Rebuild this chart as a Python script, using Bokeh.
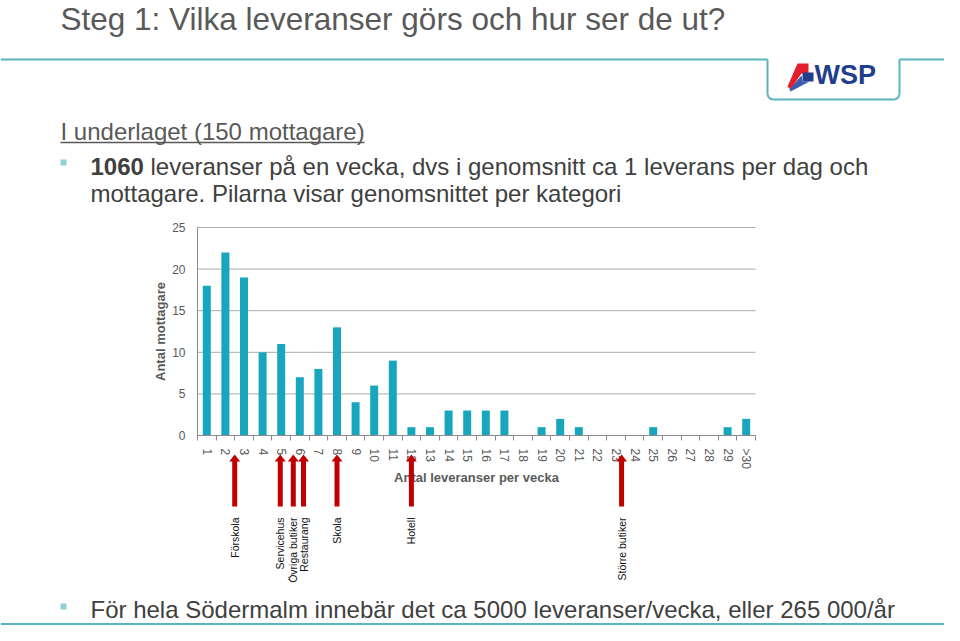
from math import pi
from bokeh.plotting import figure
from bokeh.models import (Range1d, FixedTicker, Label, Arrow,
                          BoxAnnotation, PolyAnnotation)
from bokeh.embed import file_html
from bokeh.resources import INLINE

# ---------------- data ----------------
categories = ["1", "2", "3", "4", "5", "6", "7", "8", "9", "10",
              "11", "12", "13", "14", "15", "16", "17", "18", "19", "20",
              "21", "22", "23", "24", "25", "26", "27", "28", "29", ">30"]
counts = [18, 22, 19, 10, 11, 7, 8, 13, 4, 6,
          9, 1, 1, 3, 3, 3, 3, 0, 1, 2,
          1, 0, 0, 0, 1, 0, 0, 0, 1, 2]
y_ticks = [0, 5, 10, 15, 20, 25]
arrow_labels = ["Förskola", "Servicehus", "Övriga butiker", "Restaurang",
                "Skola", "Hotell", "Större butiker"]
arrow_positions = [2.5, 4.95, 5.65, 6.2, 8.0, 12.0, 23.3]

title_text = "Steg 1: Vilka leveranser görs och hur ser de ut?"
heading_text = "I underlaget (150 mottagare)"
bullet1_bold = "1060"
bullet1_rest = "leveranser på en vecka, dvs i genomsnitt ca 1 leverans per dag och"
bullet1_line2 = "mottagare. Pilarna visar genomsnittet per kategori"
bullet2_text = "För hela Södermalm innebär det ca 5000 leveranser/vecka, eller 265 000/år"
logo_text = "WSP"

# ---------------- style ----------------
FONT = "Liberation Sans"
GRAY = "#595959"
DARK = "#404040"
TEAL = "#5AB4BC"
BULLET = "#93D0D3"
BAR = "#17A6BE"
RED = "#C00000"
AXIS = "#8C8C8C"
GRID = "#ABABAB"
LOGO_BLUE = "#1F3E8C"
LOGO_RED = "#E3202A"

W, H = 944, 625
FL, FR, FT, FB = 197, 755, 227, 435        # chart area edges in canvas pixels
X0, X1 = 0.5, len(categories) + 0.5
Y0, Y1 = y_ticks[0], y_ticks[-1]
PXX = (X1 - X0) / (FR - FL)                # data units per pixel
PXY = (Y1 - Y0) / (FB - FT)
XS = X0 - FL * PXX
YE = Y0 + FB * PXY


def dx(px):
    return XS + px * PXX


def dy(py):
    return YE - py * PXY


# the frame covers the whole canvas; axes are pinned at the chart's origin
p = figure(width=W, height=H, output_backend="svg", toolbar_location=None,
           x_range=Range1d(dx(0), dx(W)), y_range=Range1d(dy(H), dy(0)),
           min_border=0)
p.outline_line_color = None
p.background_fill_color = "white"
p.border_fill_color = "white"
p.xgrid.visible = False
p.ygrid.visible = False

# horizontal gridlines limited to the chart area
p.segment(x0=[X0] * len(y_ticks), x1=[X1] * len(y_ticks), y0=y_ticks, y1=y_ticks,
          line_color=GRID, line_width=1)

positions = [i + 1 for i in range(len(categories))]
p.vbar(x=positions, top=counts, width=0.43, fill_color=BAR, line_color=None)

# x axis
xa = p.xaxis[0]
xa.fixed_location = Y0
xa.bounds = (X0, X1)
xa.ticker = FixedTicker(ticks=positions,
                        minor_ticks=[i + 0.5 for i in range(len(categories) + 1)])
xa.major_label_overrides = {pos: c for pos, c in zip(positions, categories)}
xa.major_label_orientation = "vertical"
xa.major_tick_out = 0
xa.major_tick_in = 0
xa.minor_tick_out = 5
xa.minor_tick_in = 0
xa.minor_tick_line_color = AXIS
xa.axis_line_color = AXIS
xa.major_label_standoff = 8
xa.major_label_text_font = FONT
xa.major_label_text_font_size = "12px"
xa.major_label_text_color = GRAY
xa.axis_label = "Antal leveranser per vecka"
xa.axis_label_text_font = FONT
xa.axis_label_text_font_size = "13px"
xa.axis_label_text_font_style = "bold"
xa.axis_label_text_color = GRAY
xa.axis_label_standoff = -2

# y axis
ya = p.yaxis[0]
ya.fixed_location = X0
ya.bounds = (Y0, Y1)
ya.ticker = FixedTicker(ticks=y_ticks)
ya.major_tick_out = 0
ya.major_tick_in = 0
ya.minor_tick_out = 0
ya.minor_tick_in = 0
ya.axis_line_color = AXIS
ya.major_label_standoff = 12
ya.major_label_text_font = FONT
ya.major_label_text_font_size = "12px"
ya.major_label_text_color = GRAY
ya.axis_label = "Antal mottagare"
ya.axis_label_text_font = FONT
ya.axis_label_text_font_size = "13px"
ya.axis_label_text_font_style = "bold"
ya.axis_label_text_color = GRAY
ya.axis_label_standoff = 1

# arrows with category labels
for name, xv in zip(arrow_labels, arrow_positions):
    p.add_layout(Arrow(end=None, x_start=xv, y_start=dy(506), x_end=xv, y_end=dy(460),
                       line_color=RED, line_width=5))
    p.add_layout(PolyAnnotation(xs=[xv - 5.5 * PXX, xv + 5.5 * PXX, xv],
                                ys=[dy(461), dy(461), dy(454)],
                                fill_color=RED, fill_alpha=1, line_color=None))
    p.add_layout(Label(x=xv, y=dy(517), text=name, angle=pi / 2,
                       text_align="right", text_baseline="middle",
                       text_font=FONT, text_font_size="10.5px", text_color="#111111"))


def txt(text, px, baseline, size, color, style="normal"):
    # anchor on the middle of the text box, derived from the wanted baseline
    mid = baseline - 0.35 * size
    p.add_layout(Label(x=dx(px), y=dy(mid), text=text, text_font=FONT,
                       text_font_size=f"{size}px", text_font_style=style,
                       text_color=color, text_align="left", text_baseline="middle"))


def seg(x0, y0, x1, y1, color, width):
    p.add_layout(Arrow(end=None, x_start=dx(x0), y_start=dy(y0), x_end=dx(x1), y_end=dy(y1),
                       line_color=color, line_width=width))


def square(x0, y0, x1, y1, color):
    p.add_layout(BoxAnnotation(left=dx(x0), right=dx(x1), top=dy(y0), bottom=dy(y1),
                               fill_color=color, fill_alpha=1, line_color=None))


def poly(pts, color):
    p.add_layout(PolyAnnotation(xs=[dx(a) for a, b in pts], ys=[dy(b) for a, b in pts],
                                fill_color=color, fill_alpha=1, line_color=None))


# slide texts
txt(title_text, 60, 29.5, 31.5, GRAY)
txt(heading_text, 60, 139, 24, GRAY)
seg(60, 142, 364, 142, GRAY, 1.5)
square(60, 159, 66, 165, BULLET)
txt(bullet1_bold, 90, 174, 24, DARK, "bold")
txt(bullet1_rest, 150, 174, 24, DARK)
txt(bullet1_line2, 90, 201, 24, DARK)
square(60, 603, 66, 609, BULLET)
txt(bullet2_text, 90, 617, 24, DARK)

# header line with logo tab
seg(0, 59, 767, 59, TEAL, 2)
seg(767, 59, 767, 94, TEAL, 2)
seg(772, 99, 894, 99, TEAL, 2)
seg(899, 94, 899, 59, TEAL, 2)
seg(899, 59, 944, 59, TEAL, 2)
seg(767, 94, 768.5, 97.5, TEAL, 2)
seg(768.5, 97.5, 772, 99, TEAL, 2)
seg(894, 99, 897.5, 97.5, TEAL, 2)
seg(897.5, 97.5, 899, 94, TEAL, 2)
# bottom line
seg(0, 623.5, 944, 623.5, TEAL, 2)

# logo
poly([(797, 63), (808, 63), (808, 73), (801, 73), (790, 89), (787, 86)], LOGO_RED)
poly([(802, 72), (813, 72), (813, 81), (802, 81)], LOGO_BLUE)
poly([(801, 75), (802, 81), (809, 81), (790, 91), (789, 89)], "#3A5BB0")
txt(logo_text, 814, 84, 27, LOGO_BLUE, "bold")

open("out.html", "w").write(file_html(p, INLINE))
